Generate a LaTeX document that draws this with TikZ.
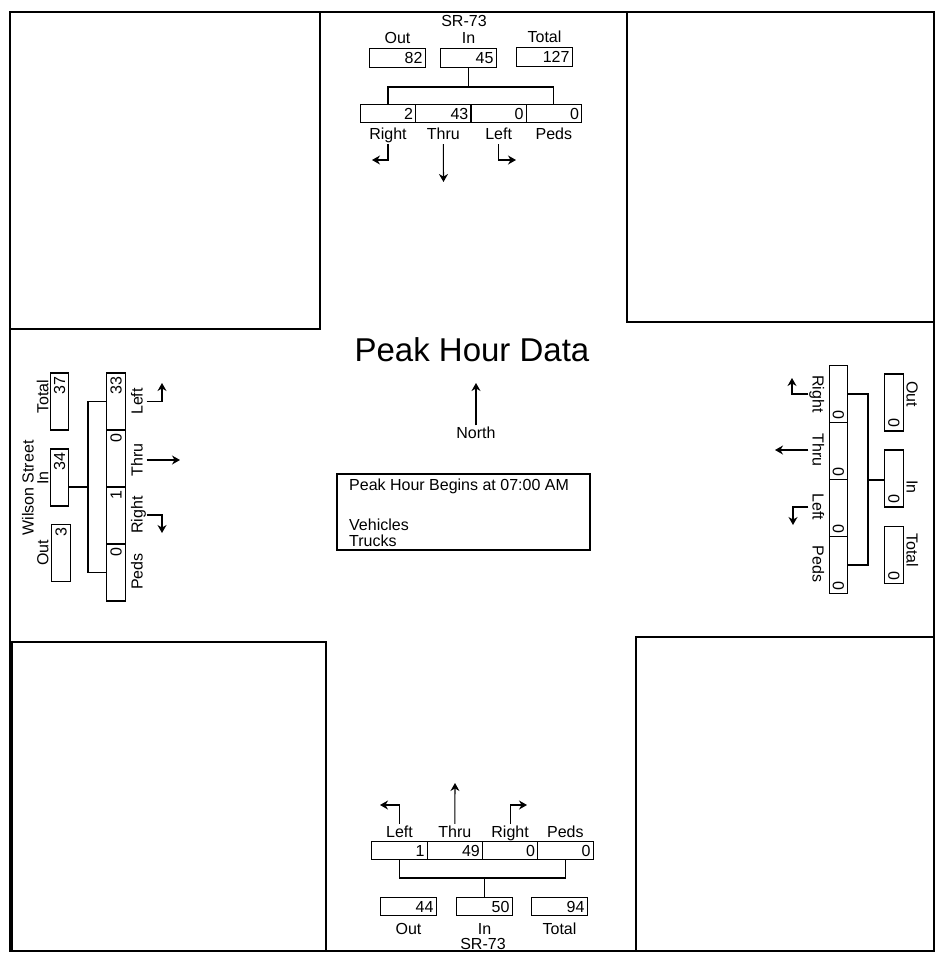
\documentclass[tikz,border=0pt]{standalone}
\usepackage{fontspec}
\setmainfont{Liberation Sans}
\usepackage{tikz}
\usetikzlibrary{arrows.meta, positioning}

\begin{document}
\begin{tikzpicture}[
    x=1pt, y=-1pt,
    cnt/.style={draw, line width=1.1pt, outer sep=0pt, text width=50pt, align=right,
                minimum width=55.3pt, minimum height=18.5pt, inner xsep=2.5pt, inner ysep=0pt,
                font=\fontsize{16}{18}\selectfont},
    vcnt/.style={cnt, minimum width=57pt},
    lbl/.style={inner sep=1pt, text height=12pt, text depth=3pt, font=\fontsize{16}{18}\selectfont},
    arr/.style={-{Stealth[length=8pt, width=9pt]}, line width=1.1pt},
    brk/.style={line width=1.1pt},
]
\useasboundingbox (0,0) rectangle (936,954);

% frame and corner blocks
\draw[line width=2pt] (10,12) rectangle (934,951);
\draw[line width=1.2pt] (10,12) rectangle (320,329);
\draw[line width=1.2pt] (627,12) rectangle (934,322);
\draw[line width=1.2pt] (12,642) rectangle (326,951);
\draw[line width=1.2pt] (636,637) rectangle (934,951);

% north leg
\node[lbl] (tName) at (464,22) {SR-73};
\node[cnt] (tOut) at (397.5,58) {82};
\node[cnt] (tIn) at (468.5,58) {45};
\node[cnt] (tTot) at (544.5,57) {127};
\node[lbl, above=1pt of tOut] (tOutl) {Out};
\node[lbl, above=1pt of tIn] (tInl) {In};
\node[lbl, above=1pt of tTot] (tTotl) {Total};

\node[cnt] (tR) at (388,113.5) {2};
\node[cnt, right=0pt of tR] (tT) {43};
\node[cnt, right=0pt of tT] (tL) {0};
\node[cnt, right=0pt of tL] (tP) {0};
\node[lbl, below=4pt of tR] (tRl) {Right};
\node[lbl, below=4pt of tT] (tTl) {Thru};
\node[lbl, below=4pt of tL] (tLl) {Left};
\node[lbl, below=4pt of tP] (tPl) {Peds};

\coordinate (tbar) at (470,87);
\draw[brk] (tR.north) |- (tbar) -| (tP.north);
\draw[brk] (tIn.south) -- (tIn.south |- tbar);

\coordinate (tRa) at (372,160);
\coordinate (tTa) at (443.5,182);
\coordinate (tLa) at (516,160);
\draw[arr] (tRl.south) |- (tRa);
\draw[arr] (tTl.south) -- (tTa);
\draw[arr] (tLl.south) |- (tLa);

% south leg
\node[cnt] (bL) at (399.5,850.5) {1};
\node[cnt, right=0pt of bL] (bT) {49};
\node[cnt, right=0pt of bT] (bR) {0};
\node[cnt, right=0pt of bR] (bP) {0};
\node[lbl, above=0pt of bL] (bLl) {Left};
\node[lbl, above=0pt of bT] (bTl) {Thru};
\node[lbl, above=0pt of bR] (bRl) {Right};
\node[lbl, above=0pt of bP] (bPl) {Peds};

\node[cnt] (bOut) at (408.5,906.5) {44};
\node[cnt] (bIn) at (484.5,906.5) {50};
\node[cnt] (bTot) at (559.5,906.5) {94};
\node[lbl, below=6pt of bOut] (bOutl) {Out};
\node[lbl, below=6pt of bIn] (bInl) {In};
\node[lbl, below=6pt of bTot] (bTotl) {Total};
\node[lbl] (bName) at (483,945) {SR-73};

\coordinate (bbar) at (483,878);
\draw[brk] (bL.south) |- (bbar) -| (bP.south);
\draw[brk] (bIn.north) -- (bIn.north |- bbar);

\coordinate (bLa) at (380,805);
\coordinate (bTa) at (455,783);
\coordinate (bRa) at (527,805);
\draw[arr] (bLl.north) |- (bLa);
\draw[arr] (bTl.north) -- (bTa);
\draw[arr] (bRl.north) |- (bRa);

% west leg
\node[lbl, rotate=90] (wName) at (29,488) {Wilson Street};
\node[vcnt, rotate=90] (wTot) at (59.5,401.5) {37};
\node[vcnt, rotate=90] (wIn) at (59.5,477.5) {34};
\node[vcnt, rotate=90] (wOut) at (61,553) {3};
\node[lbl, rotate=90] (wTotl) at (44,397) {Total};
\node[lbl, rotate=90] (wInl) at (44,478) {In};
\node[lbl, rotate=90] (wOutl) at (44,553) {Out};

\node[vcnt, rotate=90] (wL) at (116,401.5) {33};
\node[vcnt, rotate=90, anchor=east] (wT) at (wL.west) {0};
\node[vcnt, rotate=90, anchor=east] (wR) at (wT.west) {1};
\node[vcnt, rotate=90, anchor=east] (wP) at (wR.west) {0};
\node[lbl, rotate=90] (wLl) at (138,401.5) {Left};
\node[lbl, rotate=90] (wTl) at (138,460) {Thru};
\node[lbl, rotate=90] (wRl) at (138,515) {Right};
\node[lbl, rotate=90] (wPl) at (138,571.5) {Peds};

\coordinate (wbar) at (88,487);
\draw[brk] (wL.north) -| (wbar) |- (wP.north);
\draw[brk] (wIn.south |- wbar) -- (wbar);

\coordinate (wLa) at (162,383);
\coordinate (wTa) at (180,460);
\coordinate (wRa) at (162,533);
\draw[arr] (wLl.south) -| (wLa);
\draw[arr] (wTl.south) -- (wTa);
\draw[arr] (wRl.south) -| (wRa);

% east leg
\node[vcnt, rotate=-90] (eR) at (838.5,394) {0};
\node[vcnt, rotate=-90, anchor=west] (eT) at (eR.east) {0};
\node[vcnt, rotate=-90, anchor=west] (eL) at (eT.east) {0};
\node[vcnt, rotate=-90, anchor=west] (eP) at (eL.east) {0};
\node[lbl, rotate=-90] (eRl) at (817,394) {Right};
\node[lbl, rotate=-90] (eTl) at (817,450) {Thru};
\node[lbl, rotate=-90] (eLl) at (817,507) {Left};
\node[lbl, rotate=-90] (ePl) at (817,564) {Peds};

\node[vcnt, rotate=-90] (eOut) at (894,402.5) {0};
\node[vcnt, rotate=-90] (eIn) at (894,478.5) {0};
\node[vcnt, rotate=-90] (eTot) at (894,555) {0};
\node[lbl, rotate=-90] (eOutl) at (911,394) {Out};
\node[lbl, rotate=-90] (eInl) at (911,487) {In};
\node[lbl, rotate=-90] (eTotl) at (911,550) {Total};

\coordinate (ebar) at (868,480);
\draw[brk] (eR.north) -| (ebar) |- (eP.north);
\draw[brk] (ebar) -- (eIn.south |- ebar);

\coordinate (eRa) at (792,378);
\coordinate (eTa) at (775,450);
\coordinate (eLa) at (793,525);
\draw[arr] (eRl.south) -| (eRa);
\draw[arr] (eTl.south) -- (eTa);
\draw[arr] (eLl.south) -| (eLa);

% centre
\node[font=\fontsize{33}{38}\selectfont] (title) at (472,350) {Peak Hour Data};
\node[lbl] (nlab) at (476,434) {North};
\coordinate (narr) at (476,383);
\draw[arr] (nlab.north) -- (narr);

\node[draw, line width=1.1pt, minimum width=253pt, minimum height=76pt] (info) at (463.5,512) {};
\node[lbl, anchor=base west] (pbeg) at (348,490) {Peak Hour Begins at 07:00 AM};
\node[lbl, anchor=base west] (veh) at (348,530) {Vehicles};
\node[lbl, anchor=base west] (trk) at (348,546.5) {Trucks};

\end{tikzpicture}
\end{document}
